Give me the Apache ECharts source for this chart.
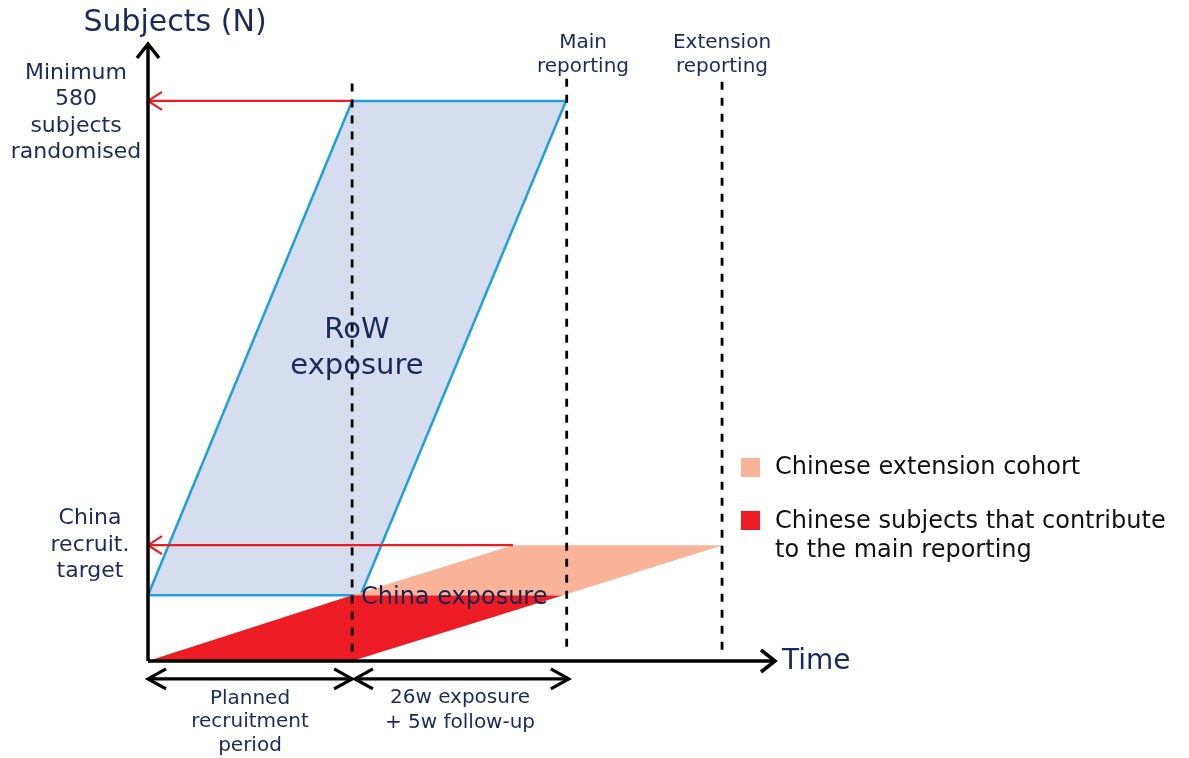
<!DOCTYPE html>
<html>
<head>
<meta charset="utf-8">
<script src="https://cdn.jsdelivr.net/npm/echarts@6/dist/echarts.min.js"></script>
<style>html,body{margin:0;padding:0;background:#fff;}#c{width:1189px;height:758px;}</style>
</head>
<body>
<div id="c"></div>
<script>
// ---- data (time in weeks, subjects N) ----
const rowShape   = [[0, 68], [29.3, 580], [60.0, 580], [30.5, 68]];
const chinaMain  = [[0, 0], [29.3, 68], [59.6, 68], [29.3, 0]];
const chinaExt   = [[29.3, 68], [52.4, 120], [82.5, 120], [59.6, 68]];
const milestoneX      = [29.3, 60.1, 82.4];
const milestoneTop    = [598, 603, 600];
const milestoneBottom = [0, 8, 8];
const targetArrows = [[29.3, 580, 0, 580], [52.4, 120, 0, 120]];
const spanArrows   = [[0, -18.6, 29.3, -18.6], [29.7, -18.6, 60.4, -18.6]];
const axesLines    = [[0, 0, 90, 0], [0, 0, 0, 639]];

const NAVY = '#1b2a5c';
const FONT = '"DejaVu Sans", Verdana, sans-serif';

function polygonRender(fill, stroke, lw) {
  return function (params, api) {
    const pts = [];
    for (let i = 0; i < 4; i++) pts.push(api.coord([api.value(2 * i), api.value(2 * i + 1)]));
    return { type: 'polygon', shape: { points: pts },
      style: { fill: fill, stroke: stroke, lineWidth: lw, lineJoin: 'miter' } };
  };
}
function chevron(tip, from, back, half) {
  const dx = tip[0] - from[0], dy = tip[1] - from[1];
  const L = Math.hypot(dx, dy), ux = dx / L, uy = dy / L;
  const bx = tip[0] - ux * back, by = tip[1] - uy * back;
  return [[bx - uy * half, by + ux * half], tip, [bx + uy * half, by - ux * half]];
}
function arrowRender(color, lw, back, half, both) {
  return function (params, api) {
    const a = api.coord([api.value(0), api.value(1)]);
    const b = api.coord([api.value(2), api.value(3)]);
    const st = { stroke: color, lineWidth: lw, fill: null, lineCap: 'butt', lineJoin: 'miter' };
    const ch = [{ type: 'line', shape: { x1: a[0], y1: a[1], x2: b[0], y2: b[1] }, style: st },
      { type: 'polyline', shape: { points: chevron(b, a, back, half) }, style: st }];
    if (both) ch.push({ type: 'polyline', shape: { points: chevron(a, b, back, half) }, style: st });
    return { type: 'group', children: ch };
  };
}
function polyEncode() { return { x: [0, 2, 4, 6], y: [1, 3, 5, 7] }; }

const chart = echarts.init(document.getElementById('c'), null, { renderer: 'canvas' });
chart.setOption({
  animation: false,
  backgroundColor: '#ffffff',
  grid: { left: 148, right: 414, top: 43, bottom: 97 },
  xAxis: { type: 'value', min: 0, max: 90, show: false },
  yAxis: { type: 'value', min: 0, max: 640, show: false },
  series: [
    { type: 'custom', name: 'RoW exposure', clip: false, z: 1,
      dimensions: ['x1','y1','x2','y2','x3','y3','x4','y4'], encode: polyEncode(),
      renderItem: polygonRender('#d6ddef', '#1ea1db', 2.5), data: [rowShape.flat()] },
    { type: 'custom', name: 'Chinese subjects that contribute to the main reporting', clip: false, z: 2,
      dimensions: ['x1','y1','x2','y2','x3','y3','x4','y4'], encode: polyEncode(),
      renderItem: polygonRender('#ed1c24', null, 0), data: [chinaMain.flat()] },
    { type: 'custom', name: 'Chinese extension cohort', clip: false, z: 2,
      dimensions: ['x1','y1','x2','y2','x3','y3','x4','y4'], encode: polyEncode(),
      renderItem: polygonRender('#f8b399', null, 0), data: [chinaExt.flat()] },
    { type: 'custom', name: 'targets', clip: false, z: 3,
      renderItem: arrowRender('#ed1c24', 2.2, 14, 9, false), data: targetArrows },
    { type: 'custom', name: 'milestones', clip: false, z: 4,
      renderItem: function (params, api) {
        const t = api.coord([api.value(0), api.value(1)]);
        const b = api.coord([api.value(0), api.value(2)]);
        return { type: 'line', shape: { x1: t[0], y1: t[1], x2: b[0], y2: b[1] },
          style: { stroke: '#000', lineWidth: 2.8, lineDash: [8, 8] } };
      },
      data: milestoneX.map((x, i) => [x, milestoneTop[i], milestoneBottom[i]]) },
    { type: 'custom', name: 'axes', clip: false, z: 5,
      renderItem: arrowRender('#000', 3.5, 14, 11, false), data: axesLines },
    { type: 'custom', name: 'spans', clip: false, z: 5,
      renderItem: arrowRender('#000', 3.2, 18, 10, true), data: spanArrows }
  ],
  graphic: [
    { type: 'text', z: 10, style: { text: 'Subjects (N)', x: 175, y: 23, align: 'center', verticalAlign: 'middle', font: '30px ' + FONT, fill: NAVY } },
    { type: 'text', z: 10, style: { text: 'Minimum\n580\nsubjects\nrandomised', x: 76, y: 113, align: 'center', verticalAlign: 'middle', font: '22px ' + FONT, lineHeight: 26.5, fill: NAVY } },
    { type: 'text', z: 10, style: { text: 'China\nrecruit.\ntarget', x: 90, y: 545, align: 'center', verticalAlign: 'middle', font: '22px ' + FONT, lineHeight: 26.5, fill: NAVY } },
    { type: 'text', z: 10, style: { text: 'Main\nreporting', x: 583, y: 55, align: 'center', verticalAlign: 'middle', font: '20px ' + FONT, lineHeight: 24, fill: NAVY } },
    { type: 'text', z: 10, style: { text: 'Extension\nreporting', x: 722, y: 55, align: 'center', verticalAlign: 'middle', font: '20px ' + FONT, lineHeight: 24, fill: NAVY } },
    { type: 'text', z: 10, style: { text: 'RoW\nexposure', x: 357, y: 348, align: 'center', verticalAlign: 'middle', font: '29px ' + FONT, lineHeight: 36, fill: NAVY } },
    { type: 'text', z: 10, style: { text: 'China exposure', x: 361, y: 598, align: 'left', verticalAlign: 'middle', font: '24px ' + FONT, fill: '#1a2250' } },
    { type: 'text', z: 10, style: { text: 'Time', x: 782, y: 662, align: 'left', verticalAlign: 'middle', font: '28px ' + FONT, fill: NAVY } },
    { type: 'text', z: 10, style: { text: 'Planned\nrecruitment\nperiod', x: 250, y: 722, align: 'center', verticalAlign: 'middle', font: '20px ' + FONT, lineHeight: 23.5, fill: NAVY } },
    { type: 'text', z: 10, style: { text: '26w exposure\n+ 5w follow-up', x: 460, y: 710, align: 'center', verticalAlign: 'middle', font: '20px ' + FONT, lineHeight: 25, fill: NAVY } },
    { type: 'rect', z: 10, shape: { x: 741, y: 458, width: 19, height: 19 }, style: { fill: '#f8b399' } },
    { type: 'text', z: 10, style: { text: 'Chinese extension cohort', x: 775, y: 468, align: 'left', verticalAlign: 'middle', font: '24px ' + FONT, fill: '#111' } },
    { type: 'rect', z: 10, shape: { x: 741, y: 511, width: 19, height: 19 }, style: { fill: '#ed1c24' } },
    { type: 'text', z: 10, style: { text: 'Chinese subjects that contribute\nto the main reporting', x: 775, y: 536, align: 'left', verticalAlign: 'middle', font: '24px ' + FONT, lineHeight: 29, fill: '#111' } }
  ]
});
</script>
</body>
</html>
